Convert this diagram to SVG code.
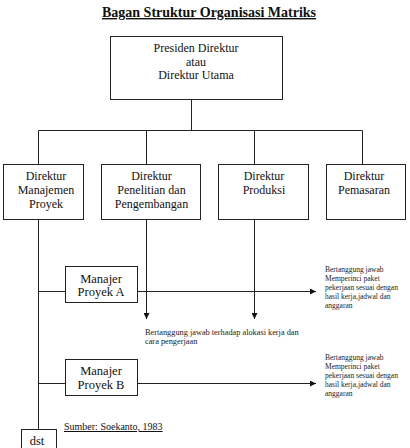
<svg xmlns="http://www.w3.org/2000/svg" width="410" height="448" viewBox="0 0 410 448">
<defs>
<style>
.box{fill:#fff;stroke:#222;stroke-width:1}
.ln{fill:none;stroke:#222;stroke-width:1}
.t{font-family:"Liberation Serif","Times New Roman",serif;font-size:12px;fill:#111;text-anchor:middle}
.m{font-family:"Liberation Serif","Times New Roman",serif;font-size:12.5px;fill:#111;text-anchor:middle}
.s{font-family:"Liberation Serif","Times New Roman",serif;font-size:7.5px;fill:#222}
.b{font-family:"Liberation Serif","Times New Roman",serif;font-size:8.3px;fill:#222}
</style>
<marker id="arr" viewBox="0 0 10 10" refX="10" refY="5" markerWidth="6" markerHeight="6" markerUnits="userSpaceOnUse" orient="auto">
<path d="M0,0 L10,5 L0,10 z" fill="#111"/>
</marker>
</defs>
<rect width="410" height="448" fill="#fff"/>
<text x="209" y="17" font-family="Liberation Serif,'Times New Roman',serif" font-size="14" font-weight="bold" text-anchor="middle" text-decoration="underline" fill="#111">Bagan Struktur Organisasi Matriks</text>

<g id="connectors">
<path class="ln" d="M191.5,99.5 V130.5 M38.5,130.5 H362.5 M38.5,130.5 V164.5 M146.5,130.5 V164.5 M254.5,130.5 V164.5 M362.5,130.5 V164.5"/>
<path class="ln" d="M38.5,219.5 V429.5"/>
<path class="ln" d="M146.5,219.5 V319" marker-end="url(#arr)"/>
<path class="ln" d="M254.5,219.5 V319" marker-end="url(#arr)"/>
<path class="ln" d="M38.5,291.5 H65.5 M38.5,383.5 H65.5"/>
<path class="ln" d="M137.5,291.5 H316" marker-end="url(#arr)"/>
<path class="ln" d="M137.5,383.5 H316" marker-end="url(#arr)"/>
<path class="ln" stroke-width="1.8" d="M290,291.5 H311 M290,383.5 H311"/>
</g>

<g id="presiden">
<rect class="box" x="110.5" y="36.5" width="172" height="63"/>
<text class="t" x="196" y="52">Presiden Direktur</text>
<text class="t" x="196" y="65.5">atau</text>
<text class="t" x="196" y="79">Direktur Utama</text>
</g>

<g id="dir-manajemen">
<rect class="box" x="3.5" y="164.5" width="80" height="55"/>
<text class="t" x="46" y="180">Direktur</text>
<text class="t" x="46" y="194">Manajemen</text>
<text class="t" x="46" y="208">Proyek</text>
</g>

<g id="dir-litbang">
<rect class="box" x="101.5" y="164.5" width="99" height="55"/>
<text class="t" x="151.5" y="180">Direktur</text>
<text class="t" x="151.5" y="194">Penelitian dan</text>
<text class="t" x="151.5" y="208">Pengembangan</text>
</g>

<g id="dir-produksi">
<rect class="box" x="218.5" y="164.5" width="90" height="55"/>
<text class="t" x="264" y="180">Direktur</text>
<text class="t" x="264" y="194">Produksi</text>
</g>

<g id="dir-pemasaran">
<rect class="box" x="326.5" y="164.5" width="79" height="55"/>
<text class="t" x="364" y="180">Direktur</text>
<text class="t" x="364" y="194">Pemasaran</text>
</g>

<g id="manajer-a">
<rect class="box" x="65.5" y="266.5" width="72" height="36"/>
<text class="m" x="101" y="282.5">Manajer</text>
<text class="m" x="101" y="296">Proyek A</text>
</g>

<g id="manajer-b">
<rect class="box" x="65.5" y="359.5" width="72" height="36"/>
<text class="m" x="101" y="375">Manajer</text>
<text class="m" x="101" y="388.5">Proyek B</text>
</g>

<g id="dst">
<rect class="box" x="21.5" y="429.5" width="35" height="24"/>
<text class="m" x="37" y="445">dst</text>
</g>

<g id="note-a">
<text class="s" x="325" y="272">Bertanggung jawab</text>
<text class="s" x="325" y="281">Memperinci paket</text>
<text class="s" x="325" y="290">pekerjaan sesuai dengan</text>
<text class="s" x="325" y="299">hasil kerja,jadwal dan</text>
<text class="s" x="325" y="308">anggaran</text>
</g>

<g id="note-mid">
<text class="b" x="145" y="335">Bertanggung jawab terhadap alokasi kerja dan</text>
<text class="b" x="145" y="344">cara pengerjaan</text>
</g>

<g id="note-b">
<text class="s" x="325" y="360">Bertanggung jawab</text>
<text class="s" x="325" y="369">Memperinci paket</text>
<text class="s" x="325" y="378">pekerjaan sesuai dengan</text>
<text class="s" x="325" y="387">hasil kerja,jadwal dan</text>
<text class="s" x="325" y="396">anggaran</text>
</g>

<text x="64" y="430" font-family="Liberation Serif,'Times New Roman',serif" font-size="10" text-decoration="underline" fill="#111">Sumber: Soekanto, 1983</text>
</svg>
